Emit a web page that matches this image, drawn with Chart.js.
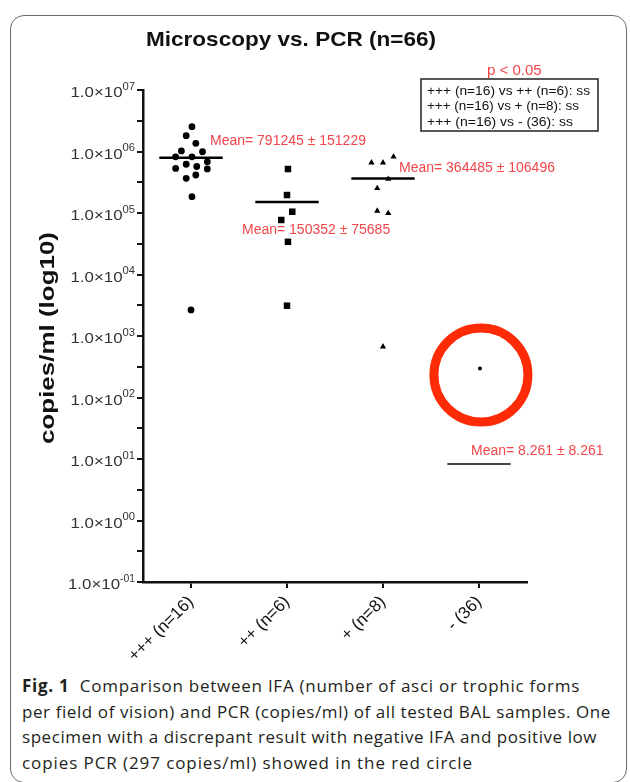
<!DOCTYPE html>
<html><head><meta charset="utf-8">
<script src="https://cdn.jsdelivr.net/npm/chart.js@4.4.1/dist/chart.umd.min.js"></script>
<style>
html,body{margin:0;padding:0;background:#fff;width:630px;height:782px;overflow:hidden;}
#frame{position:absolute;left:10px;top:15px;width:617px;height:768px;border:1.5px solid #6a6a6a;border-radius:14px;box-sizing:border-box;}
#wrap{position:absolute;left:0;top:0;width:630px;height:660px;}
#caption{position:absolute;left:22px;top:673px;width:605px;font-family:"Open Sans",Lato,sans-serif;font-size:17px;line-height:25.5px;color:#231f20;white-space:nowrap;}
#caption .ln{display:block;}
#caption .ln span{display:inline-block;}
#caption b{font-weight:bold;}
</style></head>
<body>
<div id="frame"></div>
<div id="wrap"><canvas id="c" width="630" height="660"></canvas></div>
<div id="caption">
<div class="ln"><span data-w="558"><b>Fig. 1</b>&nbsp; Comparison between IFA (number of asci or trophic forms</span></div>
<div class="ln"><span data-w="589">per field of vision) and PCR (copies/ml) of all tested BAL samples. One</span></div>
<div class="ln"><span data-w="575">specimen with a discrepant result with negative IFA and positive low</span></div>
<div class="ln"><span data-w="451">copies PCR (297 copies/ml) showed in the red circle</span></div>
</div>
<script>
// ---- data ----
const categories = ['+++ (n=16)', '++ (n=6)', '+ (n=8)', '- (36)'];
const yExponents = [7, 6, 5, 4, 3, 2, 1, 0, -1];
const strongValues = [2530000, 1810000, 1360000, 1020000, 990000, 820000, 820000, 680000, 620000, 570000, 530000, 520000, 415000, 366000, 184000, 2650];
const strongJitter = [0.01, -0.05, 0.05, -0.10, 0.12, -0.16, 0.01, 0.17, -0.05, 0.06, -0.16, 0.17, 0.05, -0.05, 0.01, 0];
const moderateValues = [519000, 196000, 105000, 77000, 34000, 3110];
const moderateJitter = [0.01, 0, 0.055, -0.06, 0.01, 0];
const weakValues = [658000, 658000, 820000, 357000, 252000, 108000, 99000, 670];
const weakJitter = [-0.12, 0, 0.11, 0.055, -0.06, -0.06, 0.055, 0];
const negativeValues = [297];
const negativeJitter = [0.01];
const means = [791245, 150352, 364485, 8.261];
const sems = [151229, 75685, 106496, 8.261];
const highlightPoint = [{x: 3.02, y: 232}];
const titleText = 'Microscopy vs. PCR (n=66)';
const yTitle = 'copies/ml (log10)';
const pText = 'p < 0.05';
const comparisons = ['+++ (n=16) vs ++ (n=6): ss', '+++ (n=16) vs + (n=8): ss', '+++ (n=16) vs - (36): ss'];

const FONT = '"Liberation Sans", Arial, sans-serif';
const RED = '#f2464a';

function fitCaption() {
  document.querySelectorAll('#caption .ln span').forEach(el => {
    el.style.letterSpacing = '0px';
    const w = el.getBoundingClientRect().width;
    const n = el.textContent.length;
    const target = parseFloat(el.dataset.w);
    el.style.letterSpacing = ((target - w) / n).toFixed(3) + 'px';
  });
}
fitCaption();
if (document.fonts && document.fonts.ready) document.fonts.ready.then(fitCaption);

function groupPoints(values, jitter, idx) {
  return values.map((v, i) => ({x: idx + jitter[i], y: v}));
}
function meanLine(i) {
  return [{x: i - 0.33, y: means[i]}, {x: i + 0.33, y: means[i]}];
}
function stretchText(ctx, text, x, y, targetW, align) {
  const w = ctx.measureText(text).width;
  ctx.save();
  ctx.translate(x, y);
  ctx.scale(targetW / w, 1);
  ctx.textAlign = align;
  ctx.fillText(text, 0, 0);
  ctx.restore();
}

// label offsets relative to (category, mean) anchor, in px
const meanLabelOffsets = [[19, -17], [-45, 28], [16, -10], [-8, -13]];

const annotate = {
  id: 'annotate',
  afterDraw(chart) {
    const {ctx, scales: {x, y}} = chart;
    ctx.save();
    ctx.textBaseline = 'middle';
    // title
    ctx.fillStyle = '#111';
    ctx.font = 'bold 21px ' + FONT;
    stretchText(ctx, titleText, 291, 40, 290, 'center');
    // y axis title
    ctx.save();
    ctx.translate(48, 338);
    ctx.rotate(-Math.PI / 2);
    ctx.font = 'bold 20px ' + FONT;
    stretchText(ctx, yTitle, 0, 0, 212, 'center');
    ctx.restore();
    // y tick labels with superscripts
    ctx.fillStyle = '#333';
    yExponents.forEach(e => {
      const py = y.getPixelForValue(Math.pow(10, e));
      const sup = (e < 0 ? '-' : '') + '0' + Math.abs(e);
      ctx.font = '10px ' + FONT;
      stretchText(ctx, sup, 135, py - 3, e < 0 ? 15 : 12.5, 'right');
      ctx.font = '15px ' + FONT;
      stretchText(ctx, '1.0\u00d710', 135 - (e < 0 ? 15 : 12.5), py + 3, 52, 'right');
    });
    // mean labels
    ctx.fillStyle = RED;
    ctx.textAlign = 'left';
    ctx.font = '14px ' + FONT;
    means.forEach((m, i) => {
      const px = x.getPixelForValue(i) + meanLabelOffsets[i][0];
      const py = y.getPixelForValue(m) + meanLabelOffsets[i][1];
      ctx.fillText('Mean= ' + m + ' \u00b1 ' + sems[i], px, py);
    });
    // p value + comparison box
    ctx.font = '15px ' + FONT;
    ctx.fillText(pText, 487, 71);
    ctx.strokeStyle = '#222';
    ctx.lineWidth = 1.5;
    ctx.strokeRect(421, 79, 177, 52);
    ctx.fillStyle = '#111';
    ctx.font = '13px ' + FONT;
    comparisons.forEach((t, i) => {
      ctx.save();
      const w = ctx.measureText(t).width;
      const target = [163, 152, 146][i];
      ctx.translate(427, 91 + i * 15.5);
      ctx.scale(Math.min(target / w, 1.15), 1);
      ctx.fillText(t, 0, 0);
      ctx.restore();
    });
    ctx.restore();
  }
};

new Chart(document.getElementById('c'), {
  type: 'scatter',
  data: {
    datasets: [
      {data: groupPoints(strongValues, strongJitter, 0), pointStyle: 'circle', pointRadius: 3.4, backgroundColor: '#000', borderColor: '#000', borderWidth: 0},
      {data: groupPoints(moderateValues, moderateJitter, 1), pointStyle: 'rect', pointRadius: 4.6, backgroundColor: '#000', borderColor: '#000', borderWidth: 0},
      {data: groupPoints(weakValues, weakJitter, 2), pointStyle: 'triangle', pointRadius: 3.6, backgroundColor: '#000', borderColor: '#000', borderWidth: 0},
      {data: groupPoints(negativeValues, negativeJitter, 3), pointStyle: 'circle', pointRadius: 2, backgroundColor: '#000', borderColor: '#000', borderWidth: 0},
      {data: meanLine(0), showLine: true, pointRadius: 0, borderColor: '#000', borderWidth: 2.5},
      {data: meanLine(1), showLine: true, pointRadius: 0, borderColor: '#000', borderWidth: 2.5},
      {data: meanLine(2), showLine: true, pointRadius: 0, borderColor: '#000', borderWidth: 2.5},
      {data: meanLine(3), showLine: true, pointRadius: 0, borderColor: '#444', borderWidth: 2},
      {data: highlightPoint, clip: false, pointStyle: 'circle', pointRadius: 47, backgroundColor: 'rgba(0,0,0,0)', borderColor: '#ff2a06', borderWidth: 9}
    ]
  },
  options: {
    responsive: false,
    animation: false,
    layout: {padding: {top: 90, right: 103, bottom: 0, left: 10}},
    plugins: {legend: {display: false}, tooltip: {enabled: false}, title: {display: false}},
    scales: {
      x: {
        type: 'linear', min: -0.5, max: 3.5, position: 'bottom',
        grid: {drawOnChartArea: false, drawTicks: true, tickLength: 6, color: '#111', lineWidth: 2},
        border: {color: '#111', width: 2.5},
        afterBuildTicks: s => { s.ticks = categories.map((c, i) => ({value: i})); },
        afterFit: s => { s.height = 78; },
        ticks: {
          autoSkip: false, minRotation: 45, maxRotation: 45, padding: 4, color: '#111',
          font: {family: FONT, size: 17},
          callback: v => categories[v]
        }
      },
      y: {
        type: 'logarithmic', min: 0.1, max: 1e7,
        grid: {drawOnChartArea: false, drawTicks: true, tickLength: 6, color: '#111', lineWidth: 2},
        border: {color: '#111', width: 2.5},
        afterBuildTicks: s => {
          const t = [];
          for (let k = -2; k <= 14; k++) t.push({value: Math.pow(10, k / 2)});
          s.ticks = t;
        },
        afterFit: s => { s.width = 133; },
        ticks: {display: false}
      }
    }
  },
  plugins: [annotate]
});
</script>
</body></html>
